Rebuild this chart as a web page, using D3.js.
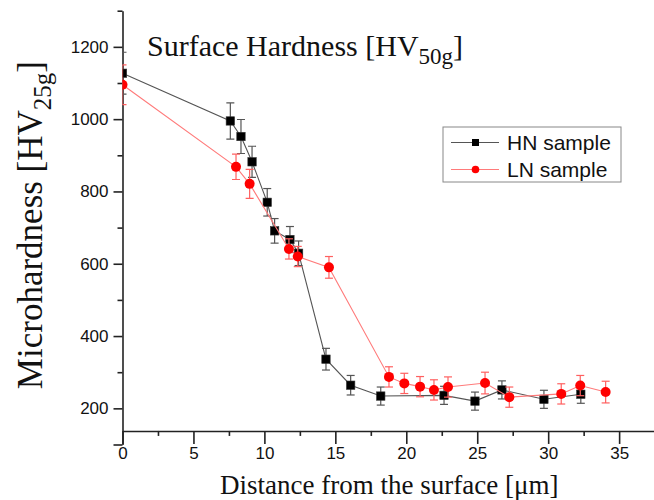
<!DOCTYPE html>
<html>
<head>
<meta charset="utf-8">
<script src="https://cdn.jsdelivr.net/npm/d3@7"></script>
<style>
  body { margin: 0; background: #fff; }
  svg { display: block; }
  .tick text { font-family: "Liberation Sans", Arial, sans-serif; font-size: 17px; fill: #111; }
  .serif { font-family: "Liberation Serif", "Times New Roman", serif; fill: #111; }
</style>
</head>
<body>
<div id="chart"></div>
<script>
// HN sample
const hnX = [0, 7.6, 8.35, 9.13, 10.2, 10.72, 11.8, 12.41, 14.34, 16.08, 18.2, 22.66, 24.84, 26.74, 29.7, 32.3];
const hnY = [1127, 995, 952, 882, 770, 691, 667, 629, 336, 264, 234, 236, 220, 251, 225, 239];
const hnErr = [58, 50, 47, 43, 38, 34, 36, 34, 30, 27, 25, 25, 25, 25, 25, 25];

// LN sample
const lnX = [0, 8.0, 8.96, 11.73, 12.35, 14.55, 18.78, 19.86, 20.97, 21.95, 22.94, 25.55, 27.26, 30.92, 32.26, 34.05];
const lnY = [1095, 868, 821, 641, 620, 590, 287, 269, 260, 251, 259, 270, 231, 240, 263, 245];
const lnErr = [55, 35, 40, 28, 28, 30, 28, 28, 28, 28, 28, 30, 28, 28, 28, 30];

const xTicks = [0, 5, 10, 15, 20, 25, 30, 35];
const yTicks = [200, 400, 600, 800, 1000, 1200];

const width = 654, height = 500;
const mLeft = 122.5, mRight = 654.6, mTop = 10.7, mBottom = 444.5;

const svg = d3.select("#chart").append("svg")
    .attr("width", width)
    .attr("height", height);

const x = d3.scaleLinear().domain([0, 37.5]).range([mLeft, mRight]);
const y = d3.scaleLinear().domain([100, 1300]).range([mBottom, mTop]);
const xAxisAt = y(137.5);

svg.append("clipPath").attr("id", "plot")
  .append("rect")
    .attr("x", mLeft).attr("y", 0)
    .attr("width", mRight - mLeft).attr("height", xAxisAt);

// axes
const xMinor = d3.range(0, 37.6, 2.5).filter(v => !xTicks.includes(v));
const yMinor = d3.range(100, 1301, 100).filter(v => !yTicks.includes(v) && v !== 100);

const gx = svg.append("g").attr("transform", "translate(0," + xAxisAt + ")");
gx.call(d3.axisBottom(x).tickValues(xMinor).tickSize(5).tickFormat(""));
gx.call(g => g.select(".domain").remove());
gx.append("g").call(d3.axisBottom(x).tickValues(xTicks).tickSize(13).tickPadding(3).tickSizeOuter(0));
gx.selectAll("path.domain, line").attr("stroke", "#222").attr("stroke-width", 1.6);

const gy = svg.append("g").attr("transform", "translate(" + mLeft + ",0)");
gy.call(d3.axisLeft(y).tickValues(yMinor).tickSize(5).tickFormat(""));
gy.call(g => g.select(".domain").remove());
gy.append("g").call(d3.axisLeft(y).tickValues(yTicks.concat([100])).tickSize(9).tickPadding(5).tickSizeOuter(0)
    .tickFormat(d => d === 100 ? "" : d));
gy.selectAll("path.domain, line").attr("stroke", "#222").attr("stroke-width", 1.6);

// axis titles
const yl = svg.append("text").attr("class", "serif")
    .attr("transform", "translate(42," + y(707) + ") rotate(-90)")
    .attr("text-anchor", "middle")
    .attr("font-size", 35);
yl.append("tspan").text("Microhardness [HV");
yl.append("tspan").attr("font-size", 25).attr("dy", 9).text("25g");
yl.append("tspan").attr("dy", -9).text("]");

svg.append("text").attr("class", "serif")
    .attr("x", x(18.8)).attr("y", 494)
    .attr("text-anchor", "middle")
    .attr("font-size", 27)
    .text("Distance from the surface [\u03bcm]");

const tt = svg.append("text").attr("class", "serif")
    .attr("x", 147).attr("y", 56)
    .attr("font-size", 30);
tt.append("tspan").text("Surface Hardness [HV");
tt.append("tspan").attr("font-size", 23).attr("dy", 8).text("50g");
tt.append("tspan").attr("dy", -8).text("]");

// series
const series = [
  {name: "HN sample", xs: hnX, ys: hnY, err: hnErr, line: "#555", bar: "#555", fill: "#000", shape: "square"},
  {name: "LN sample", xs: lnX, ys: lnY, err: lnErr, line: "#ff7a7a", bar: "#ff6060", fill: "#ff0000", shape: "circle"}
];

const plot = svg.append("g").attr("clip-path", "url(#plot)");

series.forEach(s => {
  const pts = s.xs.map((v, i) => ({x: v, y: s.ys[i], e: s.err[i]}));
  const g = plot.append("g");

  g.append("path")
      .datum(pts)
      .attr("fill", "none")
      .attr("stroke", s.line)
      .attr("stroke-width", 1.1)
      .attr("d", d3.line().x(d => x(d.x)).y(d => y(d.y)));

  const eb = g.selectAll(".eb").data(pts).enter().append("g")
      .attr("stroke", s.bar).attr("stroke-width", 1.2);
  eb.append("line")
      .attr("x1", d => x(d.x)).attr("x2", d => x(d.x))
      .attr("y1", d => y(d.y - d.e)).attr("y2", d => y(d.y + d.e));
  eb.append("line")
      .attr("x1", d => x(d.x) - 4).attr("x2", d => x(d.x) + 4)
      .attr("y1", d => y(d.y + d.e)).attr("y2", d => y(d.y + d.e));
  eb.append("line")
      .attr("x1", d => x(d.x) - 4).attr("x2", d => x(d.x) + 4)
      .attr("y1", d => y(d.y - d.e)).attr("y2", d => y(d.y - d.e));

  if (s.shape === "square") {
    g.selectAll(".m").data(pts).enter().append("rect")
        .attr("x", d => x(d.x) - 4.2).attr("y", d => y(d.y) - 4.2)
        .attr("width", 8.4).attr("height", 8.4)
        .attr("fill", s.fill).attr("stroke", "#333").attr("stroke-width", 0.6);
  } else {
    g.selectAll(".m").data(pts).enter().append("circle")
        .attr("cx", d => x(d.x)).attr("cy", d => y(d.y)).attr("r", 5)
        .attr("fill", s.fill);
  }
});

// legend
const lg = svg.append("g").attr("transform", "translate(443,127)");
lg.append("rect").attr("width", 178).attr("height", 55)
    .attr("fill", "#fff").attr("stroke", "#888").attr("stroke-width", 1);
series.forEach((s, i) => {
  const row = lg.append("g").attr("transform", "translate(0," + (15.5 + i * 27) + ")");
  row.append("line").attr("x1", 8).attr("x2", 56).attr("stroke", s.line).attr("stroke-width", 1.1);
  if (s.shape === "square") {
    row.append("rect").attr("x", 29).attr("y", -3.5).attr("width", 7).attr("height", 7).attr("fill", s.fill);
  } else {
    row.append("circle").attr("cx", 32.5).attr("r", 3.8).attr("fill", s.fill);
  }
  row.append("text")
      .attr("x", 64).attr("y", 7.5)
      .attr("font-family", "Liberation Sans, Arial, sans-serif")
      .attr("font-size", 21)
      .attr("fill", "#111")
      .text(s.name);
});
</script>
</body>
</html>
